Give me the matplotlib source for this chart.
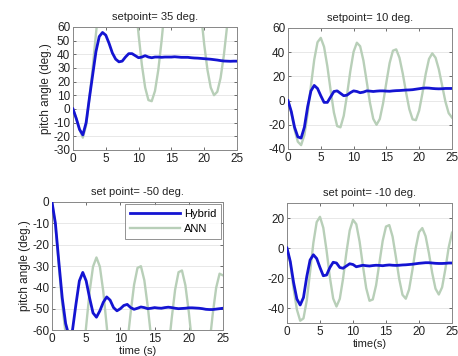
import numpy as np
import matplotlib
matplotlib.use('Agg')
import matplotlib.pyplot as plt

plt.rcParams['font.family'] = ['Liberation Sans', 'DejaVu Sans']
plt.rcParams['axes.unicode_minus'] = False

# time grid (s), 0.5 s steps
t = np.arange(0, 25.5, 0.5)

# setpoint = 35 deg
hyb_35 = [0, -7, -15, -19, -10, 8, 25, 42, 53, 56, 54, 48, 41, 36.5, 34.5, 35, 38, 40.5, 40.5, 39,
          37.5, 38, 39, 38, 37.5, 38, 38, 37.8, 38, 38, 38, 38.2, 38, 37.8, 37.8, 37.8, 37.5, 37.3,
          37.2, 37, 36.8, 36.6, 36.4, 36.1, 35.8, 35.4, 35.1, 35, 34.9, 35, 35]
ann_35 = [0, -7, -15, -21, -12, 8, 30, 55, 78, 95, 115, 132, 145, 152, 153, 148, 137, 122, 105.7, 79.7,
          54.4, 32.3, 15.7, 6.5, 5.7, 13.2, 28.4, 49.6, 74.5, 100.6, 125, 145, 158, 164, 163, 155, 140,
          118, 94.8, 70.4, 47.5, 28.6, 15.7, 10.1, 12.6, 22.7, 39.3, 60.9, 85, 109, 130.7]

# setpoint = 10 deg
hyb_10 = [0, -9, -22, -30, -31, -22, -5, 8, 12.5, 10, 4, -1.5, -1.5, 3, 7.5, 8, 6, 4, 4.5, 6.5,
          8, 7.5, 6.5, 7, 8, 7.8, 7.5, 7.8, 8, 8, 7.8, 7.7, 8, 8.2, 8.3, 8.5, 8.7, 8.8, 9, 9.4,
          9.8, 10.2, 10.4, 10.3, 10, 9.8, 9.7, 9.8, 10, 10, 10]
ann_10 = [0, -10, -24, -34, -36.8, -28.5, -10.6, 12.2, 33.7, 48.2, 51.8, 44.4, 28.4, 8.5, -9.8, -21.1,
          -22.1, -12.6, 4.6, 24.2, 40.3, 47.8, 44.9, 33.1, 15.8, -1.9, -15.1, -20, -15.2, -2.2, 15.0,
          31.1, 41.2, 42.3, 35.3, 22.3, 6.8, -7.1, -15.5, -16.2, -8.2, 6.1, 22.1, 34.4, 39, 35.4,
          25.8, 12.5, -0.8, -10.4, -14]

# set point = -50 deg
hyb_m50 = [0, -10, -28, -45, -57, -63, -60, -48, -37, -33, -37, -45, -52, -54, -51, -47, -44.5, -46,
           -49.5, -51, -50, -48.5, -48, -49.5, -50.3, -49.8, -49.2, -49.5, -50, -49.8, -49.5, -49.7,
           -49.8, -49.5, -49.3, -49.5, -49.8, -50, -49.9, -49.8, -49.6, -49.6, -49.7, -49.8, -50,
           -50.3, -50.4, -50.4, -50.2, -50, -49.8]
ann_m50 = [0, -11, -30, -48, -62, -78, -88, -92, -86, -74.5, -58.1, -42, -30.3, -26, -30.3, -42,
           -58.1, -74.5, -86.9, -92, -86.5, -79.3, -66.6, -51.9, -38.8, -30.9, -30.1, -36.7, -49,
           -63.7, -77.1, -85.6, -87.2, -83, -69.9, -54.6, -41.1, -32.9, -32.1, -39, -51.6, -66.9,
           -80.7, -89.5, -88, -80.6, -67.2, -52.5, -40.2, -33.6, -34.4]

# set point = -10 deg
hyb_m10 = [0, -9, -23, -34, -38, -33, -19, -8, -4.5, -7, -13, -18.5, -18, -13, -9.5, -10, -13, -13.5,
           -12, -10.5, -11, -12.5, -12, -11.5, -11.8, -12, -11.7, -11.5, -11.6, -11.8, -11.5, -11.3,
           -11.5, -11.6, -11.5, -11.3, -11.2, -11, -10.8, -10.5, -10.2, -10, -9.8, -9.8, -10, -10.2,
           -10.3, -10.3, -10.2, -10, -10]
ann_m10 = [0, -10, -27, -41, -48.5, -46.9, -34.9, -16, 3.5, 17.3, 20.8, 13.5, -1.8, -19.6, -33.7,
           -39, -33.9, -20.3, -3.1, 11.7, 18.8, 15.9, 4.3, -11.8, -26.7, -35.2, -34.3, -24.8, -10,
           4.8, 14.3, 15.3, 7.6, -6, -20.6, -31.2, -33.8, -27.6, -14.7, -0.1, 10.6, 13.3, 7.9, -3.4,
           -16.6, -27.1, -31, -26.2, -13.9, 0.4, 10.2]

panels = [
    # (rect in figure fraction, hybrid, ann, title, ylim, yticks, ylabel, xlabel)
    ([0.1594, 0.5787, 0.358, 0.3455], hyb_35, ann_35, 'setpoint= 35 deg.', (-30, 60), range(-30, 61, 10),
     'pitch angle (deg.)', None),
    ([0.6288, 0.5815, 0.358, 0.340], hyb_10, ann_10, 'setpoint= 10 deg.', (-40, 60), range(-40, 61, 20),
     None, None),
    ([0.1135, 0.073, 0.3734, 0.3596], hyb_m50, ann_m50, 'set point= -50 deg.', (-60, 0), range(-60, 1, 10),
     'pitch angle (deg.)', 'time (s)'),
    ([0.6266, 0.0927, 0.3603, 0.337], hyb_m10, ann_m10, 'set point= -10 deg.', (-50, 30), range(-40, 21, 20),
     None, 'time(s)'),
]

blue = '#1414d2'
green = '#b8cfb8'

fig = plt.figure(figsize=(4.58, 3.56), dpi=100)

for i, (rect, hyb, ann, title, ylim, yticks, ylab, xlab) in enumerate(panels):
    ax = fig.add_axes(rect)
    ax.plot(t, ann, color=green, lw=1.7, label='ANN', zorder=2)
    ax.plot(t, hyb, color=blue, lw=2.0, label='Hybrid', zorder=3)
    ax.set_xlim(0, 25)
    ax.set_ylim(*ylim)
    ax.set_xticks(range(0, 26, 5))
    ax.set_yticks(list(yticks))
    ax.yaxis.grid(True, color='#e4e4e4', lw=0.6)
    ax.set_axisbelow(True)
    ax.tick_params(direction='in', top=True, right=True, length=2.5, width=0.6,
                   labelsize=8.5, pad=2, colors='#555555', labelcolor='#222222')
    for s in ax.spines.values():
        s.set_color('#888888')
        s.set_linewidth(0.7)
    ax.set_title(title, fontsize=8, pad=5, color='#222222')
    if ylab:
        ax.set_ylabel(ylab, fontsize=8.5, labelpad=1, color='#222222')
    if xlab:
        ax.set_xlabel(xlab, fontsize=8, labelpad=1, color='#222222')
    if i == 2:
        h, l = ax.get_legend_handles_labels()
        leg = ax.legend(h[::-1], l[::-1], loc='upper right', fontsize=8, handlelength=4.5,
                        frameon=True, fancybox=False, borderaxespad=0.15, borderpad=0.45,
                        labelspacing=0.45, handletextpad=0.4)
        leg.get_frame().set_edgecolor('#777777')
        leg.get_frame().set_linewidth(0.7)

fig.savefig('out.png', dpi=100)
